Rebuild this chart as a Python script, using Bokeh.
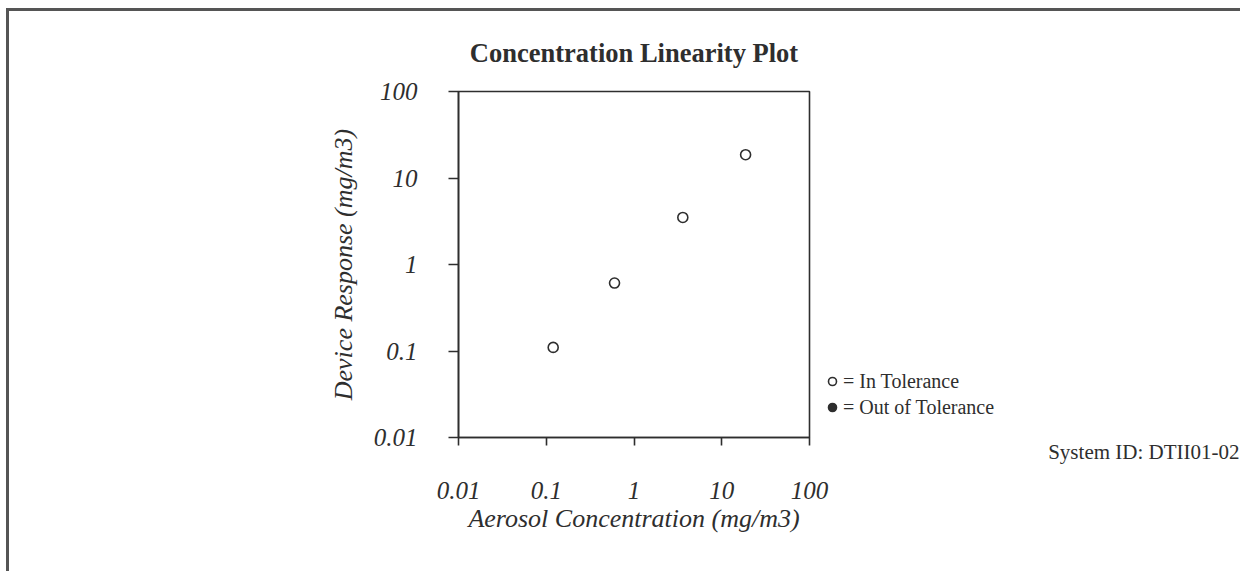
from bokeh.plotting import figure
from bokeh.layouts import row
from bokeh.models import Range1d, FixedTicker, Legend, LegendItem, Title
from bokeh.embed import file_html
from bokeh.resources import INLINE

# ---- data ----
conc = [0.12, 0.60, 3.6, 18.7]          # Aerosol Concentration (mg/m3)
resp = [0.11, 0.61, 3.5, 18.6]          # Device Response (mg/m3)
out_conc = [float("nan")]                # no out-of-tolerance points
out_resp = [float("nan")]
ticks = [0.01, 0.1, 1, 10, 100]
tick_labels = ["0.01", "0.1", "1", "10", "100"]
legend_labels = ["= In Tolerance", "= Out of Tolerance"]
system_id = "System ID: DTII01-02"

INK = "#2e2e2e"
SERIF = "Liberation Serif"

p = figure(width=823, height=560, output_backend="svg", toolbar_location=None,
           x_axis_type="log", y_axis_type="log",
           x_range=Range1d(0.01, 100), y_range=Range1d(0.01, 100),
           min_border_left=449, min_border_right=23,
           min_border_top=74, min_border_bottom=134,
           background_fill_color="white", border_fill_color="white")

p.title.text = "Concentration Linearity Plot"
p.title.text_font = SERIF
p.title.text_font_style = "bold"
p.title.text_font_size = "26.5px"
p.title.text_color = INK
p.title.align = "center"
p.title.standoff = 48

p.outline_line_color = INK
p.outline_line_width = 1.6
p.xgrid.visible = False
p.ygrid.visible = False

overrides = {t: l for t, l in zip(ticks, tick_labels)}
for ax, tick_out in ((p.xaxis[0], 8), (p.yaxis[0], 10)):
    ax.ticker = FixedTicker(ticks=ticks, minor_ticks=[])
    ax.major_label_overrides = overrides
    ax.axis_line_color = INK
    ax.axis_line_width = 1.6
    ax.major_tick_line_color = INK
    ax.major_tick_line_width = 1.6
    ax.major_tick_out = tick_out
    ax.major_tick_in = 0
    ax.minor_tick_line_color = None
    ax.major_label_text_font = SERIF
    ax.major_label_text_font_style = "italic"
    ax.major_label_text_font_size = "25px"
    ax.major_label_text_color = INK
    ax.axis_label_text_font = SERIF
    ax.axis_label_text_font_style = "italic"
    ax.axis_label_text_font_size = "26px"
    ax.axis_label_text_color = INK

p.xaxis.axis_label = "Aerosol Concentration (mg/m3)"
p.yaxis.axis_label = "Device Response (mg/m3)"
p.xaxis.major_label_standoff = 36
p.yaxis.major_label_standoff = 31
p.xaxis.axis_label_standoff = 2
p.yaxis.axis_label_standoff = 13

p.scatter(conc, resp, marker="circle", size=10, fill_color=None,
          line_color=INK, line_width=1.6)
p.scatter(out_conc, out_resp, marker="circle", size=10, fill_color=INK,
          line_color=INK, line_width=1.6)

# ---- side area (legend + system id), overlapping the plot slightly ----
p2 = figure(width=418, height=560, output_backend="svg", toolbar_location=None,
            x_range=Range1d(0, 1), y_range=Range1d(0, 1),
            min_border=0, x_axis_location=None, y_axis_location=None,
            background_fill_alpha=0, border_fill_alpha=0)
p2.outline_line_color = None
p2.xgrid.visible = False
p2.ygrid.visible = False
p2.styles = {"margin-left": "-10px"}

k_in = p2.scatter(out_conc, out_resp, marker="circle", size=10, fill_color=None,
                  line_color=INK, line_width=1.6)
k_out = p2.scatter(out_conc, out_resp, marker="circle", size=10, fill_color=INK,
                   line_color=INK, line_width=1.6)

legend = Legend(items=[LegendItem(label=legend_labels[0], renderers=[k_in]),
                       LegendItem(label=legend_labels[1], renderers=[k_out])],
                location=(0, 18.5), orientation="vertical",
                padding=0, margin=0, spacing=3,
                glyph_width=20, glyph_height=20, label_standoff=1,
                label_text_font=SERIF, label_text_font_size="20px",
                label_text_color=INK,
                border_line_color=None, background_fill_alpha=0)
p2.add_layout(legend)

# invisible spacer title pushes the system id down towards the page bottom
spacer = Title(text=" ", align="right", standoff=68, text_font=SERIF,
               text_font_size="21px", text_alpha=0)
p2.add_layout(spacer, "below")

sysid = Title(text=system_id, align="right", offset=1, standoff=0,
              text_font=SERIF, text_font_style="normal",
              text_font_size="21px", text_color=INK)
p2.add_layout(sysid, "below")

layout = row(p, p2, styles={"margin-top": "8px", "margin-left": "6px",
                            "border-top": "3px solid #555555",
                            "border-left": "3px solid #555555"})

open("out.html", "w").write(file_html(layout, INLINE))
